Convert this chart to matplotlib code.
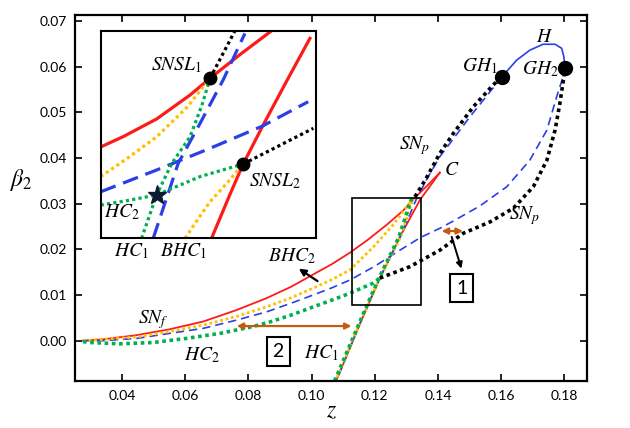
import numpy as np
import matplotlib.pyplot as plt
from matplotlib.patches import Rectangle

plt.rcParams['mathtext.fontset'] = 'stix'
plt.rcParams['font.family'] = ['Lato', 'DejaVu Sans']

# Main diagram curves (z, beta_2) ---------------------------------------------
snf_up_z = [0.0276, 0.034, 0.0446, 0.0551, 0.0657, 0.0762, 0.0857, 0.0935,
            0.1005, 0.1065, 0.1122, 0.1180, 0.1240, 0.1290, 0.1327, 0.1370,
            0.1406]
snf_up_b = [0.0000, 0.0003, 0.0012, 0.0025, 0.0042, 0.0067, 0.0093, 0.0118,
            0.0145, 0.0168, 0.0193, 0.0222, 0.0255, 0.0285, 0.0313, 0.0342,
            0.0368]
snf_lo_z = [0.1406, 0.1343, 0.1280, 0.1216, 0.1163, 0.1077]
snf_lo_b = [0.0368, 0.0308, 0.0228, 0.0137, 0.0053, -0.0089]

bhc_z = [0.0276, 0.0446, 0.0551, 0.0657, 0.0762, 0.0857, 0.0935, 0.1005,
         0.1065, 0.1122, 0.1195, 0.1260, 0.1322, 0.1280, 0.1216, 0.1160,
         0.1075]
bhc_b = [0.0000, 0.0008, 0.0020, 0.0034, 0.0053, 0.0074, 0.0094, 0.0115,
         0.0134, 0.0155, 0.0205, 0.0255, 0.0312, 0.0225, 0.0137, 0.0050,
         -0.0089]

hc2_z = [0.0276, 0.0297, 0.0393, 0.0499, 0.0604, 0.0710, 0.0815, 0.0868,
         0.0935, 0.1005, 0.1065, 0.1122, 0.1195, 0.1216]
hc2_b = [-0.0002, -0.0004, -0.0007, -0.0004, 0.0005, 0.0016, 0.0031, 0.0041,
         0.0056, 0.0074, 0.0089, 0.0104, 0.0126, 0.0137]
hc1_z = [0.1317, 0.1275, 0.1213, 0.1158, 0.1072]
hc1_b = [0.0312, 0.0225, 0.0137, 0.0050, -0.0089]

hom_lo_z = [0.0276, 0.034, 0.0446, 0.0551, 0.0657, 0.0762, 0.0857, 0.0935,
            0.1005, 0.1065, 0.1122, 0.1200, 0.1270, 0.1345, 0.1406, 0.1449,
            0.1533, 0.1618, 0.1691, 0.1745, 0.1776, 0.1795, 0.1802]
hom_lo_b = [0.0000, 0.0000, 0.0005, 0.0016, 0.0027, 0.0045, 0.0063, 0.0082,
            0.0100, 0.0116, 0.0133, 0.0163, 0.0194, 0.0226, 0.0246, 0.0262,
            0.0295, 0.0337, 0.0395, 0.0461, 0.0534, 0.0575, 0.0598]
hom_up_z = [0.1602, 0.1565, 0.1501, 0.1438, 0.1406, 0.1370, 0.1333, 0.1280,
            0.1216, 0.1160, 0.1078]
hom_up_b = [0.0577, 0.0545, 0.0490, 0.0432, 0.0403, 0.0360, 0.0312, 0.0226,
            0.0137, 0.0050, -0.0089]

h_z = [0.1602, 0.1649, 0.1691, 0.1733, 0.1771, 0.1792, 0.1799, 0.1802]
h_b = [0.0577, 0.0614, 0.0636, 0.0649, 0.0649, 0.0640, 0.0621, 0.0598]

snp_up_z = [0.1327, 0.1360, 0.1406, 0.1449, 0.1512, 0.1575, 0.1602]
snp_up_b = [0.0315, 0.0352, 0.0410, 0.0454, 0.0512, 0.0560, 0.0577]
snp_lo_z = [0.1216, 0.1311, 0.1406, 0.1480, 0.1565, 0.1639, 0.1702, 0.1745,
            0.1771, 0.1786, 0.1799, 0.1802]
snp_lo_b = [0.0137, 0.0162, 0.0198, 0.0235, 0.0260, 0.0290, 0.0337, 0.0395,
            0.0461, 0.0519, 0.0578, 0.0598]

gh_z = [0.1602, 0.1802]
gh_b = [0.0577, 0.0598]

zoom_box = [0.1127, 0.0077, 0.1346, 0.0312]  # z0, b0, z1, b1

# Inset curves (inset's own 0..1 frame) ----------------------------------------
in_red1_u = [0.0, 0.105, 0.26, 0.415, 0.508, 0.647, 0.794]
in_red1_v = [0.44, 0.49, 0.575, 0.69, 0.771, 0.885, 1.0]
in_red2_u = [0.515, 0.60, 0.662, 0.755, 0.86, 0.972]
in_red2_v = [0.0, 0.21, 0.358, 0.546, 0.75, 0.963]
in_blk1_u = [0.508, 0.624]
in_blk1_v = [0.771, 1.0]
in_blk2_u = [0.662, 0.988]
in_blk2_v = [0.358, 0.530]
in_blu1_u = [0.244, 0.36, 0.47, 0.569, 0.670]
in_blu1_v = [0.0, 0.361, 0.57, 0.763, 0.987]
in_blu2_u = [0.0, 0.25, 0.50, 0.75, 0.964]
in_blu2_v = [0.224, 0.325, 0.43, 0.54, 0.658]
in_hc1_u = [0.19, 0.26, 0.33, 0.415, 0.47, 0.508]
in_hc1_v = [0.0, 0.209, 0.36, 0.489, 0.64, 0.771]
in_hc2_u = [0.0, 0.13, 0.26, 0.461, 0.662]
in_hc2_v = [0.160, 0.183, 0.209, 0.297, 0.358]
in_bhc1_u = [0.0, 0.13, 0.26, 0.40, 0.508]
in_bhc1_v = [0.297, 0.39, 0.489, 0.63, 0.771]
in_bhc2_u = [0.392, 0.45, 0.508, 0.59, 0.662]
in_bhc2_v = [0.0, 0.09, 0.176, 0.27, 0.358]
snsl_u = [0.508, 0.662]
snsl_v = [0.771, 0.358]
star_u, star_v = 0.26, 0.209

RED = '#ff1a1a'
BLUE = '#2b3fe6'
YEL = '#ffc000'
GRN = '#00b050'
ORG = '#c55a11'
DOT = (0, (1, 1))

fig = plt.figure(figsize=(6.3, 4.28), dpi=100)
ax = fig.add_axes([0.1198, 0.1091, 0.8124, 0.8558])

ax.plot(snf_up_z, snf_up_b, color=RED, lw=1.3)
ax.plot(snf_lo_z, snf_lo_b, color=RED, lw=1.3)
ax.plot(hom_lo_z, hom_lo_b, color=BLUE, lw=1.2, ls=(0, (5, 3)))
ax.plot(hom_up_z, hom_up_b, color=BLUE, lw=1.2, ls=(0, (5, 3)))
ax.plot(h_z, h_b, color=BLUE, lw=1.2)
ax.plot(bhc_z, bhc_b, color=YEL, lw=2.0, ls=DOT)
ax.plot(hc2_z, hc2_b, color=GRN, lw=2.6, ls=DOT)
ax.plot(hc1_z, hc1_b, color=GRN, lw=2.6, ls=DOT)
ax.plot(snp_up_z, snp_up_b, color='k', lw=2.6, ls=DOT)
ax.plot(snp_lo_z, snp_lo_b, color='k', lw=2.6, ls=DOT)
ax.plot(gh_z, gh_b, 'o', color='k', ms=10, zorder=5)

ax.add_patch(Rectangle((zoom_box[0], zoom_box[1]),
                       zoom_box[2] - zoom_box[0], zoom_box[3] - zoom_box[1],
                       fill=False, ec='k', lw=1.2, zorder=6))

ax.set_xlim(0.0252, 0.1873)
ax.set_ylim(-0.0089, 0.0713)
ax.set_xticks(np.arange(0.04, 0.181, 0.02))
ax.set_yticks(np.arange(0.0, 0.071, 0.01))
ax.xaxis.set_major_formatter(plt.FormatStrFormatter('%.2f'))
ax.yaxis.set_major_formatter(plt.FormatStrFormatter('%.2f'))
ax.tick_params(direction='in', top=True, right=True, length=5, width=1.2,
               labelsize=10, pad=6)
for s in ax.spines.values():
    s.set_linewidth(1.6)

ax.set_xlabel('$z$', fontsize=17, labelpad=-1)
ax.set_ylabel(r'$\beta_2$', fontsize=17, rotation=0, va='center')
ax.yaxis.set_label_coords(-0.105, 0.55)

fs = 14
ax.text(0.1327, 0.0428, '$SN_p$', fontsize=fs, ha='center', va='center')
ax.text(0.1675, 0.0275, '$SN_p$', fontsize=fs, ha='center', va='center')
ax.text(0.1443, 0.0374, '$C$', fontsize=fs, ha='center', va='center')
ax.text(0.1739, 0.0667, '$H$', fontsize=fs, ha='center', va='center')
ax.text(0.1533, 0.0601, '$GH_1$', fontsize=fs, ha='center', va='center')
ax.text(0.1723, 0.0594, '$GH_2$', fontsize=fs, ha='center', va='center')
ax.text(0.0498, 0.0047, '$SN_f$', fontsize=fs, ha='center', va='center')
ax.text(0.0651, -0.0031, '$HC_2$', fontsize=fs, ha='center', va='center')
ax.text(0.1032, -0.0028, '$HC_1$', fontsize=fs, ha='center', va='center')
ax.text(0.0937, 0.0184, '$BHC_2$', fontsize=fs, ha='center', va='center')
ax.text(0.0430, 0.0195, '$HC_1$', fontsize=fs, ha='center', va='center')
ax.text(0.0593, 0.0195, '$BHC_1$', fontsize=fs, ha='center', va='center')

box = dict(boxstyle='square,pad=0.3', fc='white', ec='k', lw=1.5)
ax.text(0.0894, -0.0024, '2', fontsize=14, ha='center', va='center',
        bbox=box)
ax.text(0.1475, 0.0115, '1', fontsize=14, ha='center', va='center',
        bbox=box)

ax.annotate('', xy=(0.0952, 0.0161), xytext=(0.1026, 0.0127),
            arrowprops=dict(arrowstyle='-|>', color='k', lw=1.6,
                            mutation_scale=10))
ax.annotate('', xy=(0.1477, 0.0152), xytext=(0.1441, 0.0233),
            arrowprops=dict(arrowstyle='-|>', color='k', lw=1.4,
                            mutation_scale=9))
ax.annotate('', xy=(0.1135, 0.0032), xytext=(0.0754, 0.0032),
            arrowprops=dict(arrowstyle='<|-|>', color=ORG, lw=1.6,
                            mutation_scale=9))
ax.annotate('', xy=(0.1488, 0.0240), xytext=(0.1403, 0.0240),
            arrowprops=dict(arrowstyle='<|-|>', color=ORG, lw=1.6,
                            mutation_scale=9))

# Inset -----------------------------------------------------------------------
ins = fig.add_axes([0.1598, 0.4432, 0.3417, 0.4850])
ins.plot(in_red1_u, in_red1_v, color=RED, lw=2.3)
ins.plot(in_red2_u, in_red2_v, color=RED, lw=2.3)
ins.plot(in_blu1_u, in_blu1_v, color=BLUE, lw=2.3, ls=(0, (5, 2.5)))
ins.plot(in_blu2_u, in_blu2_v, color=BLUE, lw=2.3, ls=(0, (5, 2.5)))
ins.plot(in_bhc1_u, in_bhc1_v, color=YEL, lw=2.3, ls=DOT)
ins.plot(in_bhc2_u, in_bhc2_v, color=YEL, lw=2.3, ls=DOT)
ins.plot(in_hc1_u, in_hc1_v, color=GRN, lw=2.3, ls=DOT)
ins.plot(in_hc2_u, in_hc2_v, color=GRN, lw=2.3, ls=DOT)
ins.plot(in_blk1_u, in_blk1_v, color='k', lw=2.3, ls=DOT)
ins.plot(in_blk2_u, in_blk2_v, color='k', lw=2.3, ls=DOT)
ins.plot(snsl_u, snsl_v, 'o', color='k', ms=9, zorder=5)
ins.plot(star_u, star_v, '*', color='#0d1a33', ms=14, zorder=5)
ins.text(0.353, 0.835, '$SNSL_1$', fontsize=fs, ha='center', va='center')
ins.text(0.81, 0.273, '$SNSL_2$', fontsize=fs, ha='center', va='center')
ins.text(0.098, 0.128, '$HC_2$', fontsize=fs, ha='center', va='center')
ins.set_xlim(0, 1)
ins.set_ylim(0, 1)
ins.set_xticks([])
ins.set_yticks([])
for s in ins.spines.values():
    s.set_linewidth(1.5)

fig.savefig('out.png', dpi=100)
